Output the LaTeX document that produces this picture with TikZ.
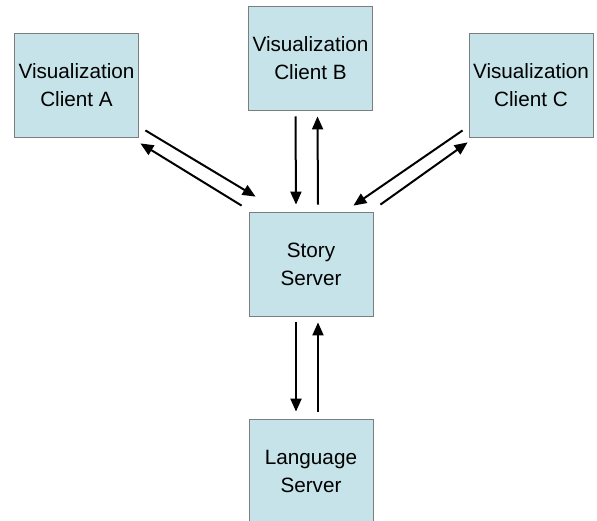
\documentclass[tikz,border=0pt]{standalone}
\usepackage{fontspec}
\setmainfont{Liberation Sans}
\usetikzlibrary{arrows.meta}
\definecolor{boxfill}{RGB}{197,227,232}
\definecolor{boxline}{RGB}{125,125,125}
\begin{document}
\begin{tikzpicture}[x=1pt, y=-1pt, box/.style={rectangle,draw=boxline,line width=0.8pt,fill=boxfill,minimum width=124pt,minimum height=104pt,inner sep=0pt,align=center,font=\fontsize{20.7}{28}\selectfont}, link/.style={line width=2pt,-{Triangle[length=13pt,width=11pt]}}]
       \useasboundingbox (0, 0) rectangle (597, 520);
       \clip (0, 0) rectangle (597, 520);
       \node[box] (clientA) at (76.5, 85) {Visualization\\Client A};
       \node[box] (clientB) at (310.5, 58) {Visualization\\Client B};
       \node[box] (clientC) at (531, 85) {Visualization\\Client C};
       \node[box] (story) at (311, 264) {Story\\Server};
       \node[box] (lang) at (311, 471) {Language\\Server};

       \draw[link] ([shift={(6.5,-7)}]clientA.south east) -- ([shift={(7,-15)}]story.north west);
       \draw[link] ([shift={(-7,-6)}]story.north west) -- ([shift={(1.5,6)}]clientA.south east);
       \draw[link] ([shift={(-6,-7)}]clientC.south west) -- ([shift={(-20,-6)}]story.north east);
       \draw[link] ([shift={(7,-7)}]story.north east) -- ([shift={(-1,5)}]clientC.south west);
       \foreach \a/\b in {clientB/story, story/lang}{
         \draw[link] ([shift={(-15,6)}]\a.south) -- ([shift={(-15,-7)}]\b.north);
         \draw[link] ([shift={(7,-7)}]\b.north) -- ([shift={(7,6)}]\a.south);
       }
     \end{tikzpicture}
\end{document}
